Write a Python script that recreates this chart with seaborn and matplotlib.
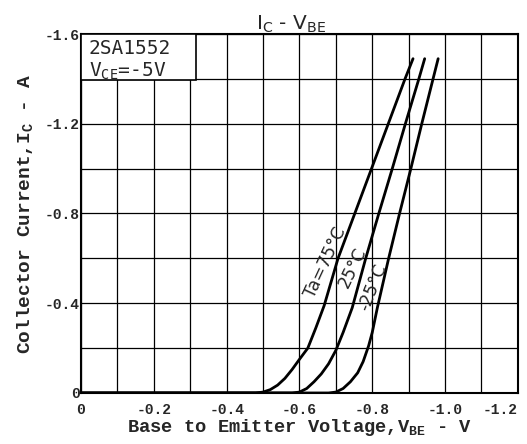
import matplotlib
matplotlib.use("Agg")
import matplotlib.pyplot as plt
import seaborn as sns
import pandas as pd
from matplotlib.patches import Rectangle

# IC - VBE curves of 2SA1552, VCE = -5V
v_75 = [0.0, -0.48, -0.50, -0.52, -0.54, -0.56, -0.58, -0.60, -0.623, -0.645, -0.668,
        -0.706, -0.752, -0.798, -0.844, -0.89, -0.912]
i_75 = [0.0, 0.0, -0.004, -0.015, -0.035, -0.065, -0.105, -0.15, -0.20, -0.29, -0.39,
        -0.60, -0.80, -1.00, -1.20, -1.40, -1.49]

v_25 = [0.0, -0.58, -0.60, -0.62, -0.64, -0.66, -0.68, -0.70, -0.72, -0.745,
        -0.782, -0.818, -0.855, -0.891, -0.928, -0.944]
i_25 = [0.0, 0.0, -0.004, -0.02, -0.05, -0.085, -0.13, -0.19, -0.27, -0.38,
        -0.60, -0.80, -1.00, -1.20, -1.40, -1.49]

v_m25 = [0.0, -0.68, -0.70, -0.72, -0.74, -0.76, -0.775, -0.79, -0.80, -0.814,
         -0.845, -0.875, -0.906, -0.936, -0.967, -0.981]
i_m25 = [0.0, 0.0, -0.004, -0.02, -0.05, -0.09, -0.14, -0.21, -0.27, -0.38,
         -0.60, -0.80, -1.00, -1.20, -1.40, -1.49]

temps = ["75", "25", "-25"]
x_ticks = [0, -0.2, -0.4, -0.6, -0.8, -1.0, -1.2]
x_labels = ["0", "-0.2", "-0.4", "-0.6", "-0.8", "-1.0", "-1.2"]
y_ticks = [0, -0.4, -0.8, -1.2, -1.6]
y_labels = ["0", "-0.4", "-0.8", "-1.2", "-1.6"]

rows = []
for t, vs, cs in zip(temps, [v_75, v_25, v_m25], [i_75, i_25, i_m25]):
    for v, c in zip(vs, cs):
        rows.append({"Ta": t, "VBE": v, "IC": c})
df = pd.DataFrame(rows)

sns.set_style("white")
plt.rcParams['font.family'] = ['Liberation Mono', 'DejaVu Sans']

fig = plt.figure(figsize=(5.27, 4.44), dpi=100)
ax = fig.add_axes([0.1537, 0.1149, 0.829, 0.8085])

sns.lineplot(data=df, x="VBE", y="IC", hue="Ta", sort=False, estimator=None,
             palette=["black"] * 3, linewidth=2.0, legend=False, ax=ax, zorder=3)

ax.set_xlim(0, -1.2)
ax.set_ylim(0, -1.6)

# grid: every 0.1 V and 0.2 A
ax.set_xticks(x_ticks)
ax.set_xticklabels(x_labels)
ax.set_yticks(y_ticks)
ax.set_yticklabels(y_labels)
ax.set_xticks([-0.1 * k for k in range(13)], minor=True)
ax.set_yticks([-0.2 * k for k in range(9)], minor=True)
ax.grid(True, which="both", color="black", linewidth=0.9)
ax.tick_params(axis="both", which="both", length=0, labelsize=10.5)
ax.tick_params(axis="x", pad=7)
ax.tick_params(axis="y", pad=1)
for s in ax.spines.values():
    s.set_color("black")
    s.set_linewidth(1.5)

for lab in ax.get_xticklabels() + ax.get_yticklabels():
    lab.set_fontweight("bold")
ax.get_xticklabels()[-1].set_ha("right")

ax.set_xlabel("Base to Emitter Voltage,V$_{\\mathregular{BE}}$ - V", fontsize=13.5,
              fontweight="bold", labelpad=0)
ax.set_ylabel("Collector Current,I$_{\\mathregular{C}}$ - A", fontsize=14,
              fontweight="bold", labelpad=6)
ax.set_title("I$_{\\mathregular{C}}$ - V$_{\\mathregular{BE}}$", fontsize=14.5,
             family="DejaVu Sans", x=0.48, pad=3)

# device box in the corner
ax.add_patch(Rectangle((0, 0.872), 0.263, 0.128, transform=ax.transAxes,
                       facecolor="white", edgecolor="black", linewidth=1.2, zorder=4))
ax.text(0.018, 0.985, "2SA1552", transform=ax.transAxes, ha="left", va="top",
        fontsize=14, family="DejaVu Sans Mono", zorder=5)
ax.text(0.018, 0.925, "V$_{\\mathregular{CE}}$=-5V", transform=ax.transAxes, ha="left",
        va="top", fontsize=14, family="DejaVu Sans Mono", zorder=5)

# curve labels
ax.text(-0.672, -0.58, "Ta=75°C", rotation=65, ha="center", va="center",
        fontsize=12.5, family="DejaVu Sans", zorder=5)
ax.text(-0.745, -0.56, "25°C", rotation=64, ha="center", va="center",
        fontsize=12.5, family="DejaVu Sans", zorder=5)
ax.text(-0.80, -0.47, "-25°C", rotation=68, ha="center", va="center",
        fontsize=12.5, family="DejaVu Sans", zorder=5)

fig.savefig("out.png", dpi=100)
